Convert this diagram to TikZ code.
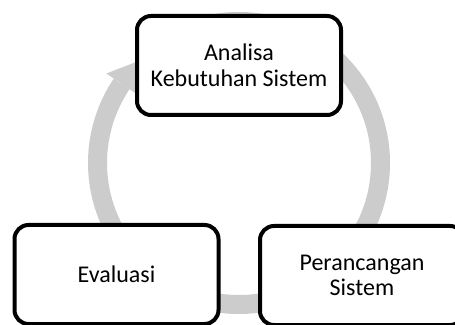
\documentclass[tikz,border=0pt]{standalone}
\usepackage{fontspec}
\setmainfont{Carlito}
\begin{document}
\begin{tikzpicture}[x=1pt,y=1pt,
  stagebox/.style={draw=black, line width=4pt, fill=white, rounded corners=14pt,
    minimum width=204pt, minimum height=99pt, inner sep=0pt, align=center,
    font=\fontsize{24}{25.5}\selectfont},
  ring/.style={draw=ringgray, line width=19pt},
]
\definecolor{ringgray}{RGB}{204,204,204}
\useasboundingbox (0,0) rectangle (455,324);
\clip (0,0) rectangle (455,324);
\fill[white] (0,0) rectangle (455,324);
\coordinate (c) at (239,161);
% circular arrow
\draw[ring] ([shift={(133:141.5)}]c) arc[start angle=133, end angle=-214, radius=141.5];
\fill[ringgray] ([shift={(146:123)}]c) -- ([shift={(146:160)}]c) -- ([shift={(133:141.5)}]c) -- cycle;
% boxes
\node[stagebox] (ana) at (239,258.5) {Analisa\\Kebutuhan Sistem};
\node[stagebox] (eva) at (116.5,49.5) {Evaluasi};
\node[stagebox] (per) at (362,48.5) {Perancangan\\Sistem};
\end{tikzpicture}
\end{document}
